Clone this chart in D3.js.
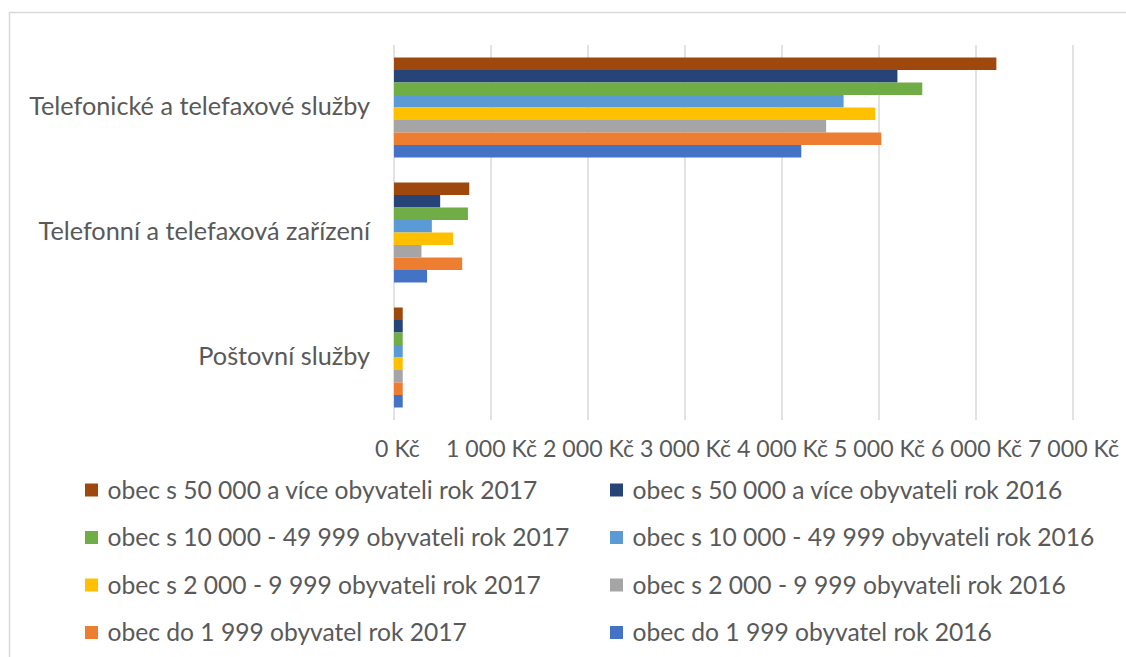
<!DOCTYPE html>
<html><head><meta charset="utf-8">
<script src="https://cdn.jsdelivr.net/npm/d3@7"></script>
<style>body{margin:0;background:#fff}svg{display:block}</style>
</head><body>
<svg id="c" width="1126" height="657"></svg>
<script>
const categories = ["Telefonické a telefaxové služby", "Telefonní a telefaxová zařízení", "Poštovní služby"];
const seriesNames = [
  "obec s 50 000 a více obyvateli rok 2017",
  "obec s 50 000 a více obyvateli rok 2016",
  "obec s 10 000 - 49 999 obyvateli rok 2017",
  "obec s 10 000 - 49 999 obyvateli rok 2016",
  "obec s 2 000 - 9 999 obyvateli rok 2017",
  "obec s 2 000 - 9 999 obyvateli rok 2016",
  "obec do 1 999 obyvatel rok 2017",
  "obec do 1 999 obyvatel rok 2016"
];
const s50k2017 = [6210, 776, 90];
const s50k2016 = [5190, 476, 90];
const s10k2017 = [5446, 762, 90];
const s10k2016 = [4635, 390, 90];
const s2k2017 = [4962, 610, 90];
const s2k2016 = [4455, 283, 90];
const s1k2017 = [5024, 703, 90];
const s1k2016 = [4199, 341, 90];
const seriesValues = [s50k2017, s50k2016, s10k2017, s10k2016, s2k2017, s2k2016, s1k2017, s1k2016];
const colors = ["#9E480E", "#264478", "#70AD47", "#5B9BD5", "#FFC000", "#A5A5A5", "#ED7D31", "#4472C4"];
const tickValues = [0, 1000, 2000, 3000, 4000, 5000, 6000, 7000];

const svg = d3.select("#c");
const FONT = "Lato, 'Open Sans', sans-serif";
const TXT = "#595959";

// chart frame
svg.append("rect").attr("x", 9.5).attr("y", 12.5).attr("width", 1130).attr("height", 660)
  .attr("fill", "none").attr("stroke", "#d9d9d9").attr("stroke-width", 1.5);

const x = d3.scaleLinear().domain([0, 7000]).range([394, 1073]);
const y0 = d3.scaleBand().domain(categories).range([45, 420]).paddingInner(0.2).paddingOuter(0.1);
const y1 = d3.scaleBand().domain(seriesNames).range([0, y0.bandwidth()]);

const loc = d3.formatLocale({decimal: ",", thousands: " ", grouping: [3], currency: ["", " Kč"]});
const fmt = loc.format("$,.0f");

// gridlines
svg.append("g").selectAll("line").data(tickValues).join("line")
  .attr("x1", d => x(d)).attr("x2", d => x(d)).attr("y1", 45).attr("y2", 420)
  .attr("stroke", "#d9d9d9").attr("stroke-width", 1.5);

// bars
const data = [];
categories.forEach((c, ci) => seriesNames.forEach((s, si) => data.push({c, s, si, v: seriesValues[si][ci]})));
svg.append("g").selectAll("rect").data(data).join("rect")
  .attr("x", x(0)).attr("y", d => y0(d.c) + y1(d.s))
  .attr("width", d => x(d.v) - x(0)).attr("height", y1.bandwidth())
  .attr("fill", d => colors[d.si]);

function fit(sel, target) {
  const n = sel.node();
  const w = n.getComputedTextLength();
  const fs = parseFloat(sel.attr("font-size"));
  sel.attr("font-size", (fs * target / w).toFixed(2));
}

// x axis tick labels
const xAxis = d3.axisBottom(x).tickValues(tickValues).tickFormat(fmt).tickSize(0).tickPadding(0);
const gx = svg.append("g").attr("transform", "translate(0,457)").call(xAxis);
gx.select(".domain").remove();
gx.selectAll("text").attr("dy", 0).attr("y", 0).attr("fill", TXT).attr("font-family", FONT).attr("font-size", 20);
fit(gx.selectAll("text").filter((d, i) => i === 1), 91);
const fsT = gx.selectAll("text").filter((d, i) => i === 1).attr("font-size");
gx.selectAll("text").attr("font-size", fsT).attr("x", d => d === 0 ? 3 : 0);

// category labels
const yAxis = d3.axisLeft(y0).tickSize(0).tickPadding(0);
const gy = svg.append("g").attr("transform", "translate(370,0)").call(yAxis);
gy.select(".domain").remove();
gy.selectAll("text").attr("dy", 0).attr("y", 7.5).attr("x", 0).attr("fill", TXT)
  .attr("font-family", FONT).attr("font-size", 20);
fit(gy.selectAll("text").filter((d, i) => i === 0), 341);
const fsC = gy.selectAll("text").filter((d, i) => i === 0).attr("font-size");
gy.selectAll("text").attr("font-size", fsC);

// legend
const rows = [490, 537.5, 585, 632.5];
const lg = svg.append("g");
const items = lg.selectAll("g").data(seriesNames).join("g")
  .attr("transform", (d, i) => `translate(${i % 2 === 0 ? 85 : 610},${rows[Math.floor(i / 2)]})`);
items.append("rect").attr("x", 0).attr("y", -6.5).attr("width", 13).attr("height", 13)
  .attr("fill", (d, i) => colors[i]);
const lt = items.append("text").attr("x", 22.5).attr("y", 8.5).attr("fill", TXT)
  .attr("font-family", FONT).attr("font-size", 20).text(d => d);
fit(lt.filter((d, i) => i === 0), 430);
const fsL = lt.filter((d, i) => i === 0).attr("font-size");
lt.attr("font-size", fsL);
</script>
</body></html>
